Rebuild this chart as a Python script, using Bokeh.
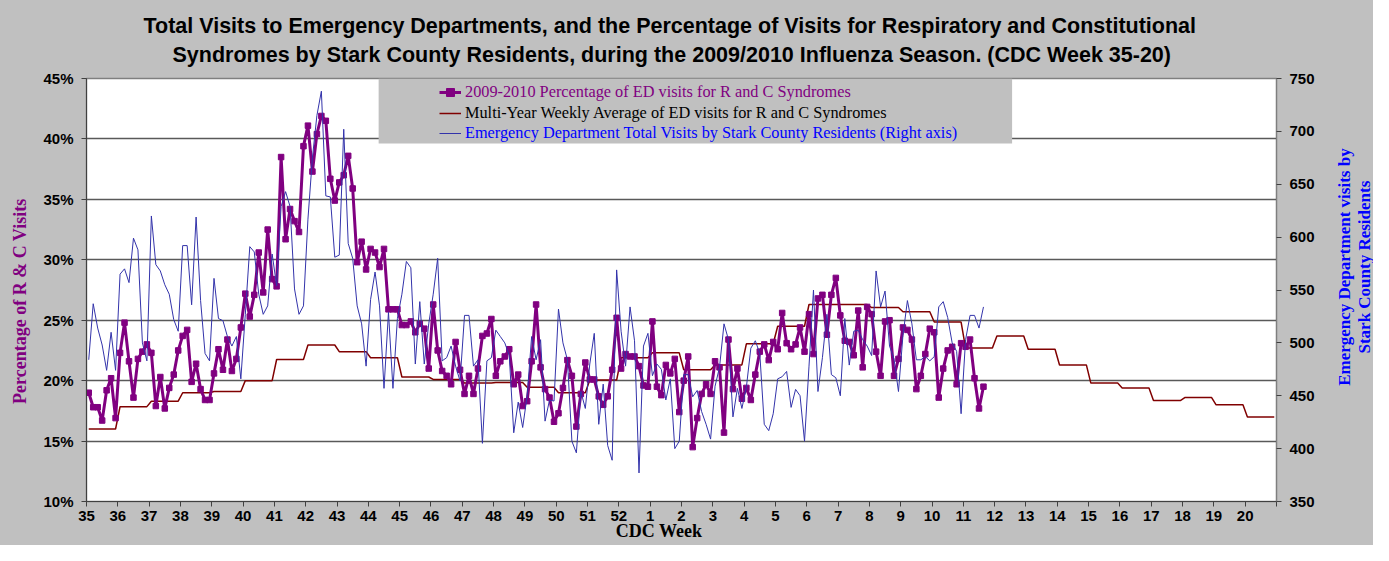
import math
from bokeh.plotting import figure
from bokeh.layouts import row
from bokeh.core.properties import value
from bokeh.models import (Range1d, LinearAxis, FixedTicker, Legend, LegendItem,
                          BoxAnnotation, Title, ColumnDataSource)
from bokeh.embed import file_html
from bokeh.resources import INLINE

# ---------------- data ----------------
week_labels = [str(w) for w in list(range(35, 53)) + list(range(1, 21))]

# 2009-2010 daily percentage of ED visits for R and C syndromes (%)
pct_2009 = [
    19.0, 17.8, 17.8, 16.7, 19.2, 20.2, 16.9, 22.3, 24.8, 21.6,
    18.6, 21.8, 22.4, 23.0, 22.3, 17.9, 20.3, 17.7, 19.4, 20.5,
    22.5, 23.7, 24.2, 19.9, 21.4, 19.3, 18.4, 18.4, 20.6, 22.6,
    20.9, 23.4, 20.8, 21.8, 24.4, 27.2, 25.3, 27.1, 30.6, 27.3,
    32.5, 28.4, 27.8, 38.5, 31.7, 34.2, 33.2, 32.3, 39.4, 41.1,
    37.3, 40.4, 41.9, 41.5, 36.7, 34.9, 36.4, 37.0, 38.6, 35.9,
    29.8, 31.5, 29.2, 30.9, 30.6, 29.4, 30.9, 25.9, 25.9, 25.9,
    24.6, 24.6, 24.9, 24.0, 24.7, 24.3, 21.0, 26.3, 22.5, 20.8,
    20.4, 19.7, 23.2, 20.9, 18.9, 20.4, 18.9, 21.0, 23.7, 23.9,
    25.1, 20.4, 21.6, 22.0, 22.6, 19.7, 20.5, 17.9, 18.3, 21.6,
    26.3, 21.1, 19.3, 18.6, 16.6, 17.3, 19.4, 21.7, 20.4, 16.2,
    18.9, 21.5, 20.1, 20.1, 18.7, 18.0, 18.7, 20.9, 25.2, 21.0,
    22.2, 22.0, 22.0, 21.2, 19.6, 19.5, 24.9, 19.5, 18.8, 21.3,
    20.6, 21.8, 17.4, 20.0, 22.0, 14.5, 16.9, 18.9, 19.7, 18.9,
    21.6, 21.1, 15.7, 23.4, 19.3, 21.0, 18.5, 19.4, 18.4, 20.5,
    22.4, 23.0, 21.7, 23.2, 22.6, 25.6, 23.1, 22.6, 23.0, 24.4,
    22.4, 25.5, 22.2, 26.8, 27.1, 23.8, 27.1, 28.5, 25.4, 23.3,
    23.2, 22.1, 25.8, 21.1, 26.1, 25.5, 22.4, 20.4, 24.9, 25.0,
    20.4, 21.8, 24.4, 24.2, 23.4, 19.3, 20.4, 22.2, 24.3, 24.0,
    18.6, 21.0, 22.5, 22.8, 19.7, 23.1, 22.8, 23.4, 20.2, 17.7,
    19.5,
]

# Daily ED total visits by Stark County residents (right axis)
ed_visits = [
    484, 537, 514, 498, 474, 510, 474, 565, 570, 557,
    599, 588, 500, 483, 620, 574, 568, 555, 546, 522,
    511, 592, 592, 536, 619, 540, 490, 483, 561, 523,
    521, 506, 497, 506, 466, 527, 591, 586, 546, 527,
    535, 584, 554, 629, 643, 629, 551, 527, 535, 617,
    675, 715, 738, 639, 638, 581, 583, 702, 594, 580,
    535, 518, 478, 541, 567, 535, 457, 529, 457, 523,
    546, 577, 571, 480, 539, 480, 518, 546, 580, 483,
    486, 497, 478, 464, 526, 526, 478, 484, 405, 483,
    486, 512, 506, 500, 488, 415, 444, 420, 450, 506,
    484, 503, 426, 446, 445, 532, 500, 484, 407, 396,
    454, 438, 480, 509, 423, 461, 403, 389, 569, 511,
    478, 534, 502, 377, 497, 509, 469, 480, 475, 446,
    466, 400, 407, 470, 470, 449, 455, 435, 423, 409,
    459, 477, 518, 503, 430, 457, 438, 458, 495, 502,
    490, 423, 417, 433, 466, 468, 473, 439, 456, 450,
    407, 478, 550, 454, 486, 527, 470, 467, 450, 523,
    479, 511, 512, 503, 497, 488, 568, 534, 549, 497,
    485, 454, 507, 540, 518, 484, 484, 487, 483, 487,
    534, 539, 524, 500, 492, 433, 503, 526, 526, 514,
    534,
]

# Multi-year weekly average (%), one value per CDC week 35..20
multi_year_avg = [
    16.0, 17.85, 18.3, 19.0, 19.1, 20.0, 21.75, 22.95, 22.4, 21.9,
    20.3, 20.1, 19.8, 19.85, 19.45, 19.0, 20.05, 21.9, 22.3, 20.9,
    21.3, 23.05, 24.5, 26.3, 26.3, 26.05, 25.7, 24.85, 22.7, 23.7,
    22.6, 21.3, 19.8, 19.4, 18.35, 18.6, 18.0, 17.0,
]

pct_ticks = [10, 15, 20, 25, 30, 35, 40, 45]
visit_ticks = [350, 400, 450, 500, 550, 600, 650, 700, 750]

right_title_lines = ["Emergency Department visits by", "Stark County Residents"]

DAYS = 7
n_days = len(week_labels) * DAYS

src_pct = ColumnDataSource(dict(x=[k + 0.5 for k in range(len(pct_2009))], y=pct_2009))
src_vis = ColumnDataSource(dict(x=[k + 0.5 for k in range(len(ed_visits))], y=ed_visits))
src_avg = ColumnDataSource(dict(x=[k + 0.5 for k in range(n_days)],
                                y=[multi_year_avg[k // DAYS] for k in range(n_days)]))

# ---------------- figure ----------------
GREY = "#C0C0C0"
PURPLE = "#800080"
MAROON = "#800000"
NAVY = "#3333AA"
NB = "\u00a0"

H = 545
W_MAIN, W_SIDE = 1328, 45
FL, FT, FW, FH = 86, 78, 1190, 423          # plot-area placement in pixels

p = figure(width=W_MAIN, height=H,
           x_range=Range1d(0, n_days), y_range=Range1d(10, 45),
           output_backend="svg", toolbar_location=None,
           min_border_left=FL, min_border_right=W_MAIN - FL - FW,
           min_border_top=FT, min_border_bottom=H - FT - FH,
           background_fill_color="white", border_fill_color=GREY,
           outline_line_color="#7F7F7F", outline_line_width=1.5)
p.extra_y_ranges = {"visits": Range1d(350, 750)}

# titles: spacer closest to the plot, then second line, then first line
p.add_layout(Title(text=" ", text_font_size="1px", standoff=8), "above")
title_lines = [
    ("Syndromes by Stark County Residents, during the 2009/2010 Influenza Season. (CDC Week 35-20)", 2, 86),
    ("Total Visits to Emergency Departments, and the Percentage of Visits for Respiratory and Constitutional", 4, 57),
]
for txt, so, off in title_lines:
    p.add_layout(Title(text=txt, align="left", offset=off, text_font="Liberation Sans",
                       text_font_size="21.5px", text_font_style="bold",
                       text_color="black", standoff=so), "above")

tick_font = dict(major_label_text_font="Liberation Sans",
                 major_label_text_font_size="15px",
                 major_label_text_font_style="bold",
                 major_label_text_color="black")

xa = p.xaxis[0]
xa.ticker = FixedTicker(ticks=list(range(0, n_days + 1, DAYS)))
overrides = {i * DAYS: lab for i, lab in enumerate(week_labels)}
overrides[n_days] = ""
xa.major_label_overrides = overrides
xa.axis_label = "CDC Week" + NB * 10
xa.axis_label_text_font = "Liberation Serif"
xa.axis_label_text_font_size = "18px"
xa.axis_label_text_font_style = "bold"
xa.axis_label_text_color = "black"
xa.axis_label_standoff = -3
xa.major_label_standoff = 4
xa.major_tick_in = 0
xa.major_tick_out = 5
xa.minor_tick_line_color = None
xa.axis_line_color = "#404040"
xa.major_tick_line_color = "#404040"
for k, v in tick_font.items():
    setattr(xa, k, v)

ya = p.yaxis[0]
ya.ticker = FixedTicker(ticks=pct_ticks)
ya.major_label_overrides = {t: f"{t}%" for t in pct_ticks}
ya.axis_label = "Percentage of R & C Visits" + NB * 5
ya.axis_label_text_font = "Liberation Serif"
ya.axis_label_text_font_size = "18px"
ya.axis_label_text_font_style = "bold"
ya.axis_label_text_color = PURPLE
ya.axis_label_standoff = 10
ya.major_label_standoff = 8
ya.major_tick_in = 0
ya.major_tick_out = 5
ya.minor_tick_line_color = None
ya.axis_line_color = "#404040"
ya.major_tick_line_color = "#404040"
for k, v in tick_font.items():
    setattr(ya, k, v)

ra = LinearAxis(y_range_name="visits", ticker=FixedTicker(ticks=visit_ticks))
ra.major_label_standoff = 8
ra.major_tick_in = 0
ra.major_tick_out = 5
ra.minor_tick_line_color = None
ra.axis_line_color = "#7F7F7F"
ra.major_tick_line_color = "#404040"
for k, v in tick_font.items():
    setattr(ra, k, v)
p.add_layout(ra, "right")

p.xgrid.grid_line_color = None
p.ygrid.ticker = FixedTicker(ticks=pct_ticks)
p.ygrid.grid_line_color = "#595959"
p.ygrid.grid_line_width = 1.5

# series
r_avg = p.line("x", "y", source=src_avg, line_color=MAROON, line_width=1.5)
r_pct_line = p.line("x", "y", source=src_pct, line_color=PURPLE, line_width=3)
r_pct_mark = p.scatter("x", "y", source=src_pct, marker="square", size=5.5,
                       fill_color=PURPLE, line_color=PURPLE)
r_vis = p.line("x", "y", source=src_vis, y_range_name="visits",
               line_color=NAVY, line_width=1)

# legend background box (top of plot area)
p.add_layout(BoxAnnotation(left=65.3, right=206.9, top=45, bottom=45 - 65 * 35 / FH,
                           fill_color=GREY, fill_alpha=1.0, line_color=None))

legend_rows = [
    ("2009-2010 Percentage of ED visits for R and C Syndromes", [r_pct_line, r_pct_mark], PURPLE, 14.3),
    ("Multi-Year Weekly Average of ED visits for R and C Syndromes", [r_avg], "black", 35.3),
    ("Emergency Department Total Visits by Stark County Residents (Right axis)", [r_vis], "#0000FF", 55.0),
]
for label, rends, color, row_centre in legend_rows:
    lg = Legend(items=[LegendItem(label=label, renderers=rends)],
                location=(353, FH - row_centre - 10), orientation="vertical",
                background_fill_alpha=0, border_line_color=None,
                padding=0, margin=0, spacing=0,
                glyph_width=22, glyph_height=20, label_height=20, label_standoff=4,
                label_text_font="Liberation Serif", label_text_font_size="16.3px",
                label_text_color=color)
    p.add_layout(lg)

# ---------------- right-hand axis title strip ----------------
side = figure(width=W_SIDE, height=H, x_range=Range1d(0, W_SIDE), y_range=Range1d(0, H),
              output_backend="svg", toolbar_location=None,
              x_axis_type=None, y_axis_type=None, min_border=0,
              background_fill_color=GREY, border_fill_color=GREY, outline_line_color=None)
side.xgrid.visible = False
side.ygrid.visible = False
side.text(x=[16, 36], y=[H - 243, H - 243], text=right_title_lines,
          angle=math.pi / 2, text_align="center", text_baseline="middle",
          text_font=value("Liberation Serif"), text_font_size="17px",
          text_font_style="bold", text_color="#0000FF")

layout = row(p, side, spacing=0, styles={"background-color": GREY})
open("out.html", "w").write(file_html(layout, INLINE))
